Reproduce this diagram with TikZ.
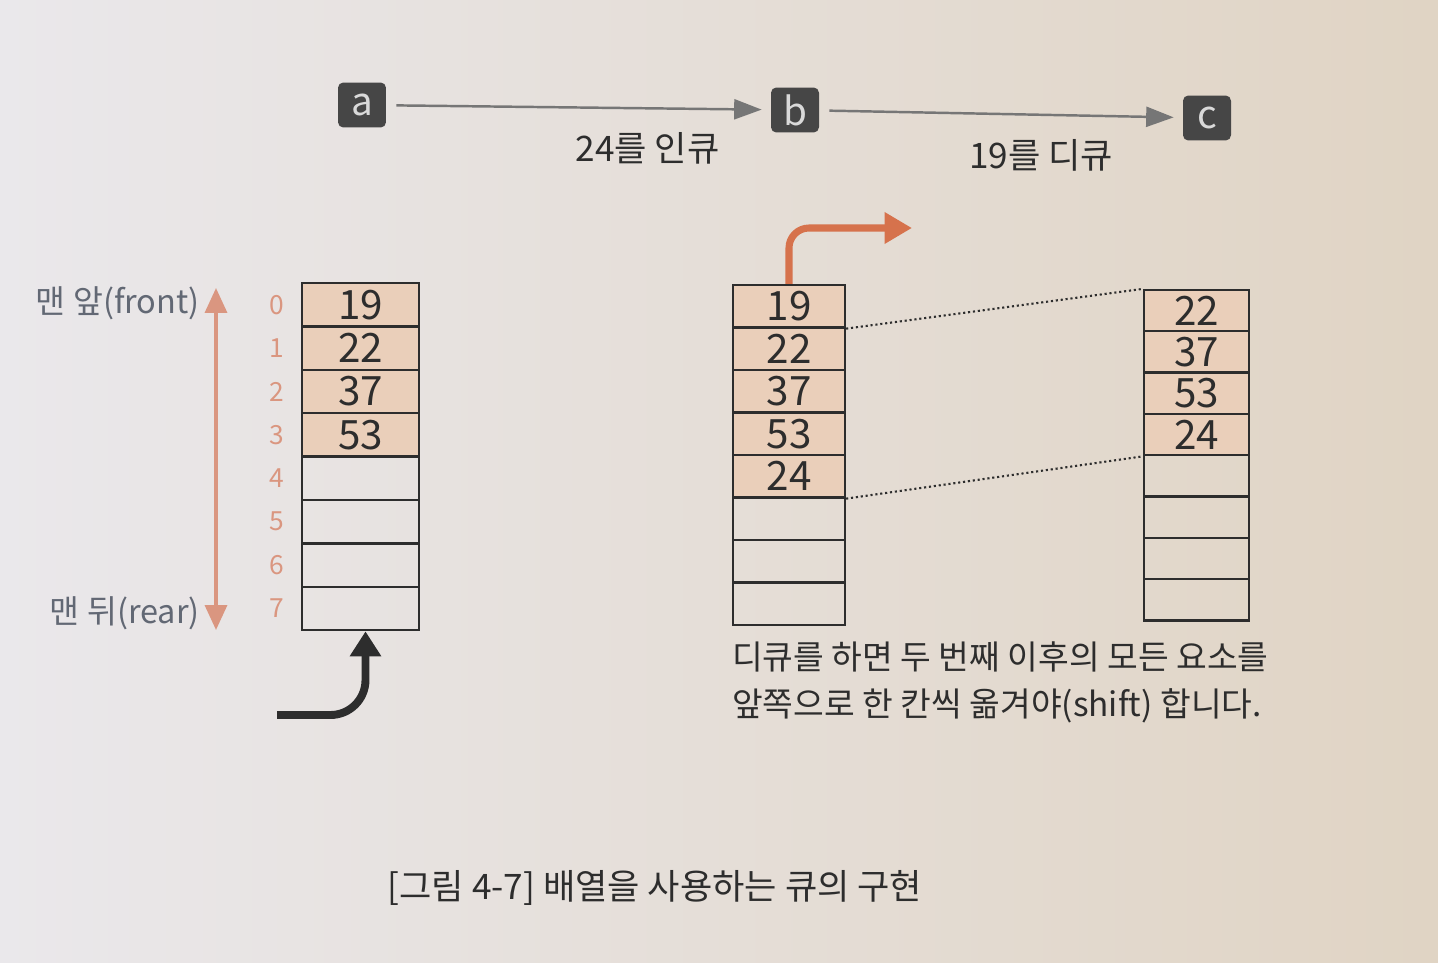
\documentclass[tikz,border=0pt]{standalone}
\usepackage{fontspec}
\setmainfont{Noto Sans CJK KR}
\usetikzlibrary{arrows.meta,positioning}
\definecolor{paperL}{RGB}{234,232,235}
\definecolor{paperR}{RGB}{224,212,196}
\definecolor{cellfill}{RGB}{234,207,186}
\definecolor{idxcol}{RGB}{218,150,128}
\definecolor{popcol}{RGB}{214,114,76}
\definecolor{boxcol}{RGB}{70,70,70}
\definecolor{ink}{RGB}{45,45,45}
\definecolor{flowcol}{RGB}{118,118,118}
\definecolor{labelcol}{RGB}{98,104,116}

\begin{document}
\begin{tikzpicture}[x=0.02cm, y=-0.02cm,
	cell/.style={draw=ink, line width=1.3pt, inner sep=0pt, text=ink, font=\fontsize{23}{23}\selectfont},
	cellL/.style={cell, minimum width=2.34cm, minimum height=0.868cm},
	cellM/.style={cell, minimum width=2.24cm, minimum height=0.85cm},
	cellR/.style={cell, minimum width=2.1cm, minimum height=0.826cm},
	full/.style={fill=cellfill},
	idx/.style={text=idxcol, inner sep=0pt, font=\fontsize{15}{15}\selectfont},
	endlabel/.style={text=labelcol, inner sep=0pt, anchor=east, font=\fontsize{18.5}{18.5}\selectfont},
	stepbox/.style={fill=boxcol, rounded corners=3pt, minimum width=0.96cm, minimum height=0.9cm, inner sep=0pt, text=gray!30, font=\fontsize{22}{22}\selectfont},
	flow/.style={draw=flowcol, line width=1.4pt, -{Triangle[width=0.4cm, length=0.55cm]}, shorten <=0.2cm, shorten >=0.18cm},
	oplabel/.style={text=ink, font=\fontsize{20}{20}\selectfont},
	poparrow/.style={draw=popcol, line width=4pt, rounded corners=0.4cm, -{Triangle[width=0.6cm, length=0.55cm]}},
	pusharrow/.style={draw=ink, line width=4.5pt, rounded corners=0.7cm, -{Triangle[width=0.6cm, length=0.5cm]}},
	note/.style={text=ink, align=left, inner sep=0pt, font=\fontsize{19}{27}\selectfont}
]
\shade[left color=paperL, right color=paperR] (0,0) rectangle (1438,963);
\useasboundingbox (0,0) rectangle (1438,963);

\node[stepbox] (a) at (362,105) {a};
\node[stepbox] (b) at (795,110) {b};
\node[stepbox] (c) at (1207,118) {c};
\draw[flow] (a) -- node[oplabel, below=0.35cm, pos=0.68] {24를 인큐} (b);
\draw[flow] (b) -- node[oplabel, below=0.35cm, pos=0.61] {19를 디큐} (c);

\foreach \v [count=\i from 0] in {19,22,37,53}
	\node[cellL, full] (L\i) at (360.5, {283+43.4*(\i+0.5)}) {\v};
\foreach \i in {4,...,7}
	\node[cellL] (L\i) at (360.5, {283+43.4*(\i+0.5)}) {};
\foreach \i in {0,...,7}
	\node[idx, left=0.32cm of L\i] (n\i) {\i};

\coordinate (fronttip) at (216,288);
\coordinate (reartip) at (216,630);
\draw[draw=idxcol, line width=2pt, {Triangle[width=0.44cm, length=0.5cm]}-{Triangle[width=0.44cm, length=0.5cm]}] (fronttip) -- (reartip);
\node[endlabel] (front) at (200,303) {맨 앞(front)};
\node[endlabel] (rear) at (200,613) {맨 뒤(rear)};

\coordinate (pushstart) at (277,715);
\draw[pusharrow] (pushstart) -| ([xshift=0.1cm]L7.south);

\foreach \v [count=\i from 0] in {19,22,37,53,24}
	\node[cellM, full] (M\i) at (789, {285+42.5*(\i+0.5)}) {\v};
\foreach \i in {5,...,7}
	\node[cellM] (M\i) at (789, {285+42.5*(\i+0.5)}) {};

\coordinate (popend) at (912,228);
\draw[poparrow] (M0.north) |- (popend);

\foreach \v [count=\i from 0] in {22,37,53,24}
	\node[cellR, full] (R\i) at (1196.5, {290+41.3*(\i+0.5)}) {\v};
\foreach \i in {4,...,7}
	\node[cellR] (R\i) at (1196.5, {290+41.3*(\i+0.5)}) {};

\draw[draw=ink, line width=1.2pt, dash pattern=on 1.2pt off 1.6pt] (M0.south east) -- (R0.north west);
\draw[draw=ink, line width=1.2pt, dash pattern=on 1.2pt off 1.6pt] (M4.south east) -- (R3.south west);

\node[note, anchor=north west] (shiftnote) at ([yshift=-0.3cm]M7.south west) {디큐를 하면 두 번째 이후의 모든 요소를\\앞쪽으로 한 칸씩 옮겨야(shift) 합니다.};

\node[oplabel] (caption) at (655,888) {[그림 4-7] 배열을 사용하는 큐의 구현};
\end{tikzpicture}
\end{document}
